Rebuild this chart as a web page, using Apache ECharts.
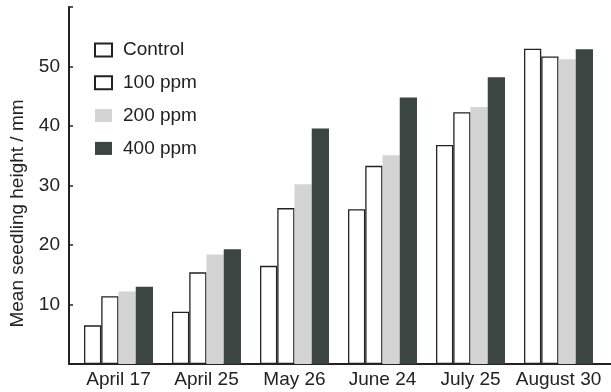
<!DOCTYPE html>
<html><head><meta charset="utf-8">
<script src="https://cdn.jsdelivr.net/npm/echarts@6/dist/echarts.min.js"></script>
<style>html,body{margin:0;padding:0;background:#fff}#c{width:611px;height:392px}</style>
</head><body><div id="c"></div>
<script>
const categories = ['April 17','April 25','May 26','June 24','July 25','August 30'];
const control = [6.5, 8.8, 16.5, 26.0, 36.8, 53.0];
const ppm100 = [11.4, 15.4, 26.2, 33.3, 42.3, 51.7];
const ppm200 = [12.2, 18.4, 30.2, 35.1, 43.2, 51.2];
const ppm400 = [13.0, 19.3, 39.6, 44.8, 48.2, 52.9];
const yTicks = [10, 20, 30, 40, 50];

const FONT = 'Liberation Sans';
const FS = 19;
const chart = echarts.init(document.getElementById('c'), null, {renderer:'canvas'});
const gTop = 7, gBottom = 28;
const mk = (name, data, color, border) => ({
  name, type:'bar', data, xAxisIndex:1, yAxisIndex:1,
  barGap:'0%', barCategoryGap:'21.6%',
  itemStyle:{color, borderColor: border ? '#222' : color, borderWidth: border ? 1.3 : 0},
  emphasis:{disabled:true}
});
chart.setOption({
  animation:false,
  textStyle:{fontFamily:FONT},
  legend:{
    orient:'vertical', left:94, top:40, itemWidth:17, itemHeight:13, itemGap:12.8,
    icon:'rect', padding:0,
    textStyle:{fontFamily:FONT, fontSize:FS, lineHeight:20, color:'#222', padding:[0,0,0,6]},
    data:['Control','100 ppm','200 ppm','400 ppm']
  },
  grid:[
    {left:69, right:0, top:gTop, bottom:gBottom},
    {left:74.5, right:8.5, top:gTop, bottom:gBottom}
  ],
  xAxis:[
    {type:'value', gridIndex:0, min:0, max:1, axisLine:{show:true, lineStyle:{color:'#222', width:2}},
     axisTick:{show:false}, axisLabel:{show:false}, splitLine:{show:false}},
    {type:'category', gridIndex:1, data:categories, axisLine:{show:false}, axisTick:{show:false},
     axisLabel:{fontFamily:FONT, fontSize:FS, color:'#222', margin:6, interval:0}}
  ],
  yAxis:[
    {type:'value', gridIndex:0, min:0, max:60, interval:10,
     axisLine:{show:true, lineStyle:{color:'#222', width:2}},
     axisTick:{show:true, inside:true, length:4, lineStyle:{color:'#222', width:1.5}},
     axisLabel:{fontFamily:FONT, fontSize:FS, color:'#222', margin:9,
       formatter:v => yTicks.includes(v) ? String(v) : ''},
     splitLine:{show:false},
     name:'Mean seedling height / mm', nameLocation:'middle', nameGap:42,
     nameTextStyle:{fontFamily:FONT, fontSize:FS, color:'#222', padding:[0,56,0,0]}},
    {type:'value', gridIndex:1, min:0, max:60, show:false, splitLine:{show:false}}
  ],
  series:[
    mk('Control', control, '#ffffff', true),
    mk('100 ppm', ppm100, '#ffffff', true),
    mk('200 ppm', ppm200, '#d4d4d4', false),
    mk('400 ppm', ppm400, '#3b4541', false)
  ]
});
</script></body></html>
